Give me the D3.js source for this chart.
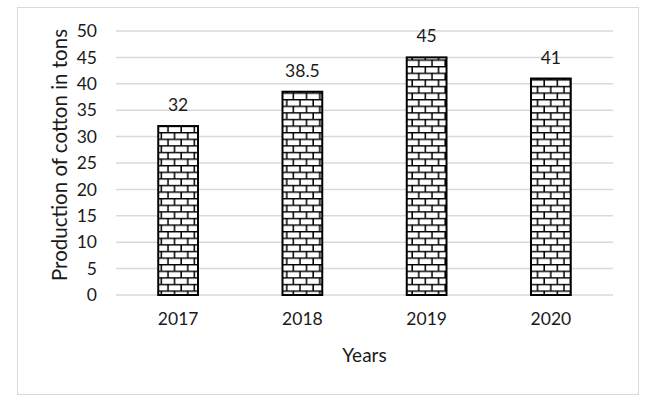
<!DOCTYPE html>
<html>
<head>
<meta charset="utf-8">
<script src="https://cdn.jsdelivr.net/npm/d3@7"></script>
<style>
  body { margin: 0; background: #fff; }
  text { font-family: Lato, "Open Sans", sans-serif; fill: #1a1a1a; }
</style>
</head>
<body>
<svg id="s"></svg>
<script>
var years = ['2017', '2018', '2019', '2020'];
var production = [32, 38.5, 45, 41];
var yTicks = [0, 5, 10, 15, 20, 25, 30, 35, 40, 45, 50];

var W = 667, H = 406;
var plotL = 116, plotR = 613, plotT = 31, plotB = 295;

var s = d3.select('#s')
  .attr('width', W)
  .attr('height', H);

// brick fill
var pat = s.append('defs').append('pattern')
  .attr('id', 'brick')
  .attr('patternUnits', 'userSpaceOnUse')
  .attr('width', 13.2)
  .attr('height', 13.2);
pat.append('rect').attr('width', 13.2).attr('height', 13.2).attr('fill', '#fff');
pat.append('path')
  .attr('d', 'M0,0.7H13.2 M0,7.3H13.2 M3,0.7V7.3 M9.6,7.3V13.9')
  .attr('stroke', '#000')
  .attr('stroke-width', 1.5)
  .attr('fill', 'none');

// frame
s.append('rect')
  .attr('x', 17.5).attr('y', 7.5)
  .attr('width', 621).attr('height', 387)
  .attr('fill', 'none')
  .attr('stroke', '#d9d9d9')
  .attr('stroke-width', 1);

var x = d3.scaleBand().domain(years).range([plotL, plotR]).paddingInner(0.68).paddingOuter(0.34);
var y = d3.scaleLinear().domain([0, 50]).range([plotB, plotT]);

// grid
s.append('g')
  .selectAll('line')
  .data(yTicks)
  .enter()
  .append('line')
  .attr('x1', plotL).attr('x2', plotR)
  .attr('y1', function(d){ return y(d); })
  .attr('y2', function(d){ return y(d); })
  .attr('stroke', '#d9d9d9')
  .attr('stroke-width', 1.5);

// y axis labels
var yAxis = s.append('g')
  .attr('transform', 'translate(' + (plotL - 19) + ',0)')
  .call(d3.axisLeft(y).tickValues(yTicks).tickSize(0).tickPadding(0));
yAxis.select('.domain').remove();
yAxis.selectAll('text')
  .attr('font-size', 17.5)
  .attr('font-family', 'Lato, "Open Sans", sans-serif')
  .attr('fill', '#1a1a1a');

// x axis labels
var xAxis = s.append('g')
  .attr('transform', 'translate(0,' + plotB + ')')
  .call(d3.axisBottom(x).tickSize(0).tickPadding(18));
xAxis.select('.domain').remove();
xAxis.selectAll('text')
  .attr('font-size', 17.5)
  .attr('font-family', 'Lato, "Open Sans", sans-serif')
  .attr('fill', '#1a1a1a');

// bars
s.append('g')
  .selectAll('rect')
  .data(production)
  .enter()
  .append('rect')
  .attr('x', function(d, i){ return x(years[i]); })
  .attr('y', function(d){ return y(d); })
  .attr('width', x.bandwidth())
  .attr('height', function(d){ return plotB - y(d); })
  .attr('fill', 'url(#brick)')
  .attr('stroke', '#000')
  .attr('stroke-width', 2);

// value labels
s.append('g')
  .selectAll('text')
  .data(production)
  .enter()
  .append('text')
  .attr('x', function(d, i){ return x(years[i]) + x.bandwidth() / 2; })
  .attr('y', function(d){ return y(d) - 15; })
  .attr('text-anchor', 'middle')
  .attr('font-size', 17.5)
  .text(function(d){ return d; });

// axis titles
s.append('text')
  .attr('x', (plotL + plotR) / 2)
  .attr('y', 362)
  .attr('text-anchor', 'middle')
  .attr('font-size', 19)
  .text('Years');

s.append('text')
  .attr('transform', 'translate(67,' + ((plotT + plotB) / 2 - 8) + ') rotate(-90)')
  .attr('text-anchor', 'middle')
  .attr('font-size', 20.5)
  .text('Production of cotton in tons');
</script>
</body>
</html>
